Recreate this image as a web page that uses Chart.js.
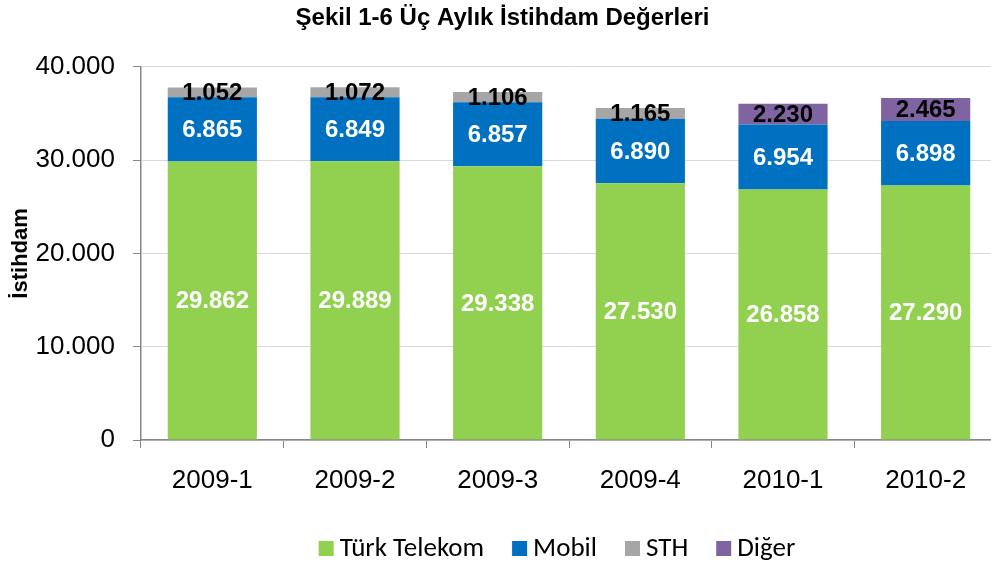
<!DOCTYPE html>
<html lang="tr">
<head>
<meta charset="utf-8">
<title>Şekil 1-6 Üç Aylık İstihdam Değerleri</title>
<script src="https://cdn.jsdelivr.net/npm/chart.js@4.4.1/dist/chart.umd.min.js"></script>
<style>
    html, body { margin: 0; padding: 0; background: #fff; overflow: hidden; }
    #wrap { width: 1000px; height: 567px; }
</style>
</head>
<body>
<div id="wrap"><canvas id="istihdam-chart" width="1000" height="567"></canvas></div>
<script>
// data
const donemler = ['2009-1', '2009-2', '2009-3', '2009-4', '2010-1', '2010-2'];
const turkTelekom = [29862, 29889, 29338, 27530, 26858, 27290];
const mobil = [6865, 6849, 6857, 6890, 6954, 6898];
const sth = [1052, 1072, 1106, 1165, 0, 0];
const diger = [0, 0, 0, 0, 2230, 2465];
const yTicks = [0, 10000, 20000, 30000, 40000];

const ARIAL = '"Liberation Sans", Arial, sans-serif';
const CALIBRI = 'Calibri, Carlito, "Open Sans", sans-serif';

function noktali(n) {
    return String(n).replace(/\B(?=(\d{3})+(?!\d))/g, '.');
}

// labels in the middle of each bar piece (no datalabels plugin offline)
const degerEtiketleri = {
    id: 'degerEtiketleri',
    afterDatasetsDraw(chart) {
        const ctx = chart.ctx;
        ctx.save();
        ctx.font = 'bold 24px ' + ARIAL;
        ctx.textAlign = 'center';
        ctx.textBaseline = 'middle';
        chart.data.datasets.forEach((ds, i) => {
            const meta = chart.getDatasetMeta(i);
            meta.data.forEach((bar, j) => {
                const v = ds.data[j];
                if (!v) return;
                ctx.fillStyle = ds.labelColor;
                ctx.fillText(noktali(v), bar.x, (bar.y + bar.base) / 2 + 1);
            });
        });
        ctx.restore();
    }
};

// legend drawn by hand so it sits where the original one is
const altLejant = {
    id: 'altLejant',
    afterDraw(chart) {
        const ctx = chart.ctx;
        const box = 15, gap = 6, space = 28, cy = 548.5, center = 557;
        ctx.save();
        ctx.font = '27px ' + CALIBRI;
        ctx.textBaseline = 'middle';
        const items = chart.data.datasets.map(ds => ({
            text: ds.label, color: ds.backgroundColor, w: ctx.measureText(ds.label).width
        }));
        let total = 0;
        items.forEach((it, i) => { total += box + gap + it.w + (i ? space : 0); });
        let x = center - total / 2;
        items.forEach(it => {
            ctx.fillStyle = it.color;
            ctx.fillRect(x, cy - box / 2, box, box);
            ctx.fillStyle = '#000';
            ctx.fillText(it.text, x + box + gap, cy + 1);
            x += box + gap + it.w + space;
        });
        ctx.restore();
    }
};

const data = {
    labels: donemler,
    datasets: [
        { label: 'Türk Telekom', data: turkTelekom, backgroundColor: '#92D050', labelColor: '#fff' },
        { label: 'Mobil', data: mobil, backgroundColor: '#0070C0', labelColor: '#fff' },
        { label: 'STH', data: sth, backgroundColor: '#A6A6A6', labelColor: '#000' },
        { label: 'Diğer', data: diger, backgroundColor: '#8064A2', labelColor: '#000' }
    ]
};

const ctx = document.getElementById('istihdam-chart');
const istihdamChart = new Chart(ctx, {
    type: 'bar',
    data: data,
    plugins: [degerEtiketleri, altLejant],
    options: {
        responsive: false,
        animation: false,
        devicePixelRatio: 1,
        categoryPercentage: 0.625,
        barPercentage: 1,
        layout: { padding: { top: 0, right: 3, bottom: 0, left: 8 } },
        plugins: {
            legend: { display: false },
            tooltip: { enabled: false },
            title: {
                display: true,
                text: 'Şekil 1-6 Üç Aylık İstihdam Değerleri',
                color: '#000',
                font: { family: ARIAL, size: 24, weight: 'bold' },
                padding: { top: 4, bottom: 34 }
            }
        },
        scales: {
            x: {
                stacked: true,
                grid: { drawOnChartArea: false, tickLength: 8, tickColor: '#868686', offset: true },
                border: { color: '#868686', width: 1.5 },
                ticks: { color: '#000', font: { family: ARIAL, size: 26 }, padding: 17 },
                afterFit(s) { s.height = 127; }
            },
            y: {
                stacked: true,
                min: 0,
                max: 40000,
                afterBuildTicks(s) { s.ticks = yTicks.map(v => ({ value: v })); },
                grid: { color: '#D9D9D9', tickLength: 8, tickColor: '#868686' },
                border: { color: '#868686', width: 1.5 },
                ticks: {
                    color: '#000',
                    font: { family: ARIAL, size: 26 },
                    padding: 18,
                    callback: v => noktali(v)
                },
                title: {
                    display: true,
                    text: 'İstihdam',
                    color: '#000',
                    font: { family: ARIAL, size: 22, weight: 'bold' },
                    padding: { top: 0, bottom: 0 }
                },
                afterFit(s) { s.width = 133; }
            }
        }
    }
});
</script>
</body>
</html>
